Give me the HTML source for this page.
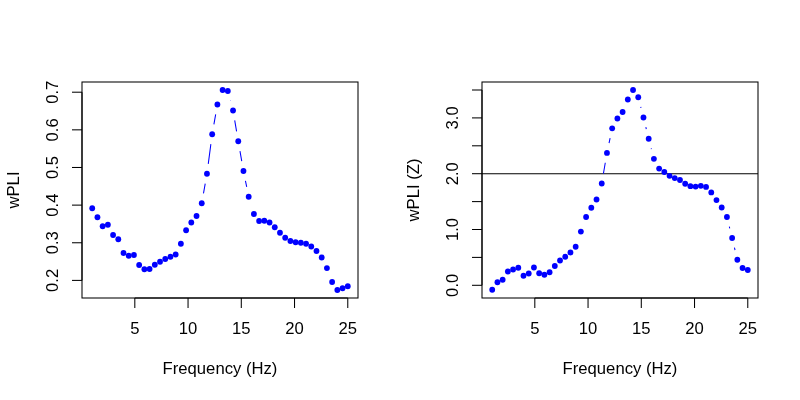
<!DOCTYPE html>
<html><head><meta charset="utf-8"><title>wPLI</title>
<style>
html,body{margin:0;padding:0;background:#fff}
svg{display:block}
text{font-family:"Liberation Sans",Arial,Helvetica,sans-serif;font-size:16.67px;fill:#000}
</style></head><body>
<svg width="800" height="400" viewBox="0 0 800 400">
<rect width="800" height="400" fill="#fff"/>
<rect x="82" y="82" width="276" height="216" fill="none" stroke="#000" stroke-width="1.04"/>
<path d="M134.81 298H347.77" stroke="#000" stroke-width="1.04" fill="none"/>
<path d="M134.81 298V308" stroke="#000" stroke-width="1.04" fill="none"/>
<text x="134.81" y="333.6" text-anchor="middle">5</text>
<path d="M188.05 298V308" stroke="#000" stroke-width="1.04" fill="none"/>
<text x="188.05" y="333.6" text-anchor="middle">10</text>
<path d="M241.29 298V308" stroke="#000" stroke-width="1.04" fill="none"/>
<text x="241.29" y="333.6" text-anchor="middle">15</text>
<path d="M294.53 298V308" stroke="#000" stroke-width="1.04" fill="none"/>
<text x="294.53" y="333.6" text-anchor="middle">20</text>
<path d="M347.77 298V308" stroke="#000" stroke-width="1.04" fill="none"/>
<text x="347.77" y="333.6" text-anchor="middle">25</text>
<path d="M82 280.40V92.20" stroke="#000" stroke-width="1.04" fill="none"/>
<path d="M82 280.40H72" stroke="#000" stroke-width="1.04" fill="none"/>
<path d="M82 242.76H72" stroke="#000" stroke-width="1.04" fill="none"/>
<path d="M82 205.12H72" stroke="#000" stroke-width="1.04" fill="none"/>
<path d="M82 167.48H72" stroke="#000" stroke-width="1.04" fill="none"/>
<path d="M82 129.84H72" stroke="#000" stroke-width="1.04" fill="none"/>
<path d="M82 92.20H72" stroke="#000" stroke-width="1.04" fill="none"/>
<text transform="translate(57.90 280.40) rotate(-90)" text-anchor="middle">0.2</text>
<text transform="translate(57.90 242.76) rotate(-90)" text-anchor="middle">0.3</text>
<text transform="translate(57.90 205.12) rotate(-90)" text-anchor="middle">0.4</text>
<text transform="translate(57.90 167.48) rotate(-90)" text-anchor="middle">0.5</text>
<text transform="translate(57.90 129.84) rotate(-90)" text-anchor="middle">0.6</text>
<text transform="translate(57.90 92.20) rotate(-90)" text-anchor="middle">0.7</text>
<text x="220" y="373.6" text-anchor="middle">Frequency (Hz)</text>
<text transform="translate(18.60 190) rotate(-90)" text-anchor="middle">wPLI</text>
<path d="M203.49 193.40L205.22 183.60M208.27 163.84L210.87 144.16M213.90 124.40L215.67 114.35M230.41 100.66L230.45 100.84M234.71 120.36L236.58 131.39M239.98 151.10L241.74 161.15M245.45 180.80L246.70 186.95" stroke="#00f" stroke-width="1.04" fill="none"/>
<g fill="#00f"><circle cx="92.22" cy="208.25" r="2.9"/><circle cx="97.44" cy="217.25" r="2.9"/><circle cx="102.65" cy="226.25" r="2.9"/><circle cx="107.87" cy="224.75" r="2.9"/><circle cx="113.08" cy="235.00" r="2.9"/><circle cx="118.30" cy="239.25" r="2.9"/><circle cx="123.51" cy="253.00" r="2.9"/><circle cx="128.73" cy="255.75" r="2.9"/><circle cx="133.94" cy="255.00" r="2.9"/><circle cx="139.16" cy="265.00" r="2.9"/><circle cx="144.38" cy="269.25" r="2.9"/><circle cx="149.59" cy="269.00" r="2.9"/><circle cx="154.81" cy="264.75" r="2.9"/><circle cx="160.02" cy="261.75" r="2.9"/><circle cx="165.24" cy="259.00" r="2.9"/><circle cx="170.45" cy="256.75" r="2.9"/><circle cx="175.67" cy="254.50" r="2.9"/><circle cx="180.88" cy="243.75" r="2.9"/><circle cx="186.10" cy="230.25" r="2.9"/><circle cx="191.31" cy="222.50" r="2.9"/><circle cx="196.53" cy="216.00" r="2.9"/><circle cx="201.75" cy="203.25" r="2.9"/><circle cx="206.96" cy="173.75" r="2.9"/><circle cx="212.18" cy="134.25" r="2.9"/><circle cx="217.39" cy="104.50" r="2.9"/><circle cx="222.61" cy="90.00" r="2.9"/><circle cx="227.82" cy="91.00" r="2.9"/><circle cx="233.04" cy="110.50" r="2.9"/><circle cx="238.25" cy="141.25" r="2.9"/><circle cx="243.47" cy="171.00" r="2.9"/><circle cx="248.69" cy="196.75" r="2.9"/><circle cx="253.90" cy="214.00" r="2.9"/><circle cx="259.12" cy="221.00" r="2.9"/><circle cx="264.33" cy="220.75" r="2.9"/><circle cx="269.55" cy="222.50" r="2.9"/><circle cx="274.76" cy="227.25" r="2.9"/><circle cx="279.98" cy="232.75" r="2.9"/><circle cx="285.19" cy="237.75" r="2.9"/><circle cx="290.41" cy="241.00" r="2.9"/><circle cx="295.62" cy="242.25" r="2.9"/><circle cx="300.84" cy="242.75" r="2.9"/><circle cx="306.06" cy="243.75" r="2.9"/><circle cx="311.27" cy="246.50" r="2.9"/><circle cx="316.49" cy="251.00" r="2.9"/><circle cx="321.70" cy="257.50" r="2.9"/><circle cx="326.92" cy="268.10" r="2.9"/><circle cx="332.13" cy="282.00" r="2.9"/><circle cx="337.35" cy="290.00" r="2.9"/><circle cx="342.56" cy="288.25" r="2.9"/><circle cx="347.78" cy="286.25" r="2.9"/></g>
<rect x="482" y="82" width="276" height="216" fill="none" stroke="#000" stroke-width="1.04"/>
<path d="M534.81 298H747.77" stroke="#000" stroke-width="1.04" fill="none"/>
<path d="M534.81 298V308" stroke="#000" stroke-width="1.04" fill="none"/>
<text x="534.81" y="333.6" text-anchor="middle">5</text>
<path d="M588.05 298V308" stroke="#000" stroke-width="1.04" fill="none"/>
<text x="588.05" y="333.6" text-anchor="middle">10</text>
<path d="M641.29 298V308" stroke="#000" stroke-width="1.04" fill="none"/>
<text x="641.29" y="333.6" text-anchor="middle">15</text>
<path d="M694.53 298V308" stroke="#000" stroke-width="1.04" fill="none"/>
<text x="694.53" y="333.6" text-anchor="middle">20</text>
<path d="M747.77 298V308" stroke="#000" stroke-width="1.04" fill="none"/>
<text x="747.77" y="333.6" text-anchor="middle">25</text>
<path d="M482 285.30V90.00" stroke="#000" stroke-width="1.04" fill="none"/>
<path d="M482 285.30H472" stroke="#000" stroke-width="1.04" fill="none"/>
<path d="M482 257.40H472" stroke="#000" stroke-width="1.04" fill="none"/>
<path d="M482 229.50H472" stroke="#000" stroke-width="1.04" fill="none"/>
<path d="M482 201.60H472" stroke="#000" stroke-width="1.04" fill="none"/>
<path d="M482 173.70H472" stroke="#000" stroke-width="1.04" fill="none"/>
<path d="M482 145.80H472" stroke="#000" stroke-width="1.04" fill="none"/>
<path d="M482 117.90H472" stroke="#000" stroke-width="1.04" fill="none"/>
<path d="M482 90.00H472" stroke="#000" stroke-width="1.04" fill="none"/>
<text transform="translate(457.90 285.30) rotate(-90)" text-anchor="middle">0.0</text>
<text transform="translate(457.90 229.50) rotate(-90)" text-anchor="middle">1.0</text>
<text transform="translate(457.90 173.70) rotate(-90)" text-anchor="middle">2.0</text>
<text transform="translate(457.90 117.90) rotate(-90)" text-anchor="middle">3.0</text>
<text x="620" y="373.6" text-anchor="middle">Frequency (Hz)</text>
<text transform="translate(418.60 190) rotate(-90)" text-anchor="middle">wPLI (Z)</text>
<path d="M482 173.70H758" stroke="#000" stroke-width="1.04" fill="none"/>
<path d="M603.43 173.64L605.28 162.76M609.04 143.12L610.10 138.08M640.75 106.93L640.98 107.82M645.85 127.21L646.30 129.04M651.20 148.43L651.38 149.12M729.33 226.71L729.72 228.29M734.47 247.72L735.02 250.03" stroke="#00f" stroke-width="1.04" fill="none"/>
<g fill="#00f"><circle cx="492.22" cy="289.75" r="2.9"/><circle cx="497.44" cy="282.25" r="2.9"/><circle cx="502.65" cy="279.75" r="2.9"/><circle cx="507.87" cy="271.50" r="2.9"/><circle cx="513.08" cy="269.50" r="2.9"/><circle cx="518.30" cy="267.75" r="2.9"/><circle cx="523.51" cy="275.75" r="2.9"/><circle cx="528.73" cy="273.50" r="2.9"/><circle cx="533.94" cy="267.50" r="2.9"/><circle cx="539.16" cy="273.25" r="2.9"/><circle cx="544.38" cy="274.75" r="2.9"/><circle cx="549.59" cy="272.25" r="2.9"/><circle cx="554.81" cy="266.00" r="2.9"/><circle cx="560.02" cy="260.50" r="2.9"/><circle cx="565.24" cy="256.75" r="2.9"/><circle cx="570.45" cy="252.50" r="2.9"/><circle cx="575.67" cy="246.75" r="2.9"/><circle cx="580.88" cy="231.60" r="2.9"/><circle cx="586.10" cy="217.00" r="2.9"/><circle cx="591.31" cy="207.75" r="2.9"/><circle cx="596.53" cy="199.50" r="2.9"/><circle cx="601.75" cy="183.50" r="2.9"/><circle cx="606.96" cy="152.90" r="2.9"/><circle cx="612.18" cy="128.30" r="2.9"/><circle cx="617.39" cy="118.50" r="2.9"/><circle cx="622.61" cy="112.00" r="2.9"/><circle cx="627.82" cy="99.50" r="2.9"/><circle cx="633.04" cy="90.00" r="2.9"/><circle cx="638.25" cy="97.25" r="2.9"/><circle cx="643.47" cy="117.50" r="2.9"/><circle cx="648.69" cy="138.75" r="2.9"/><circle cx="653.90" cy="158.80" r="2.9"/><circle cx="659.12" cy="168.60" r="2.9"/><circle cx="664.33" cy="172.00" r="2.9"/><circle cx="669.55" cy="175.80" r="2.9"/><circle cx="674.76" cy="178.05" r="2.9"/><circle cx="679.98" cy="180.00" r="2.9"/><circle cx="685.19" cy="183.75" r="2.9"/><circle cx="690.41" cy="186.15" r="2.9"/><circle cx="695.62" cy="186.60" r="2.9"/><circle cx="700.84" cy="185.85" r="2.9"/><circle cx="706.06" cy="186.90" r="2.9"/><circle cx="711.27" cy="192.45" r="2.9"/><circle cx="716.49" cy="200.10" r="2.9"/><circle cx="721.70" cy="207.50" r="2.9"/><circle cx="726.92" cy="217.00" r="2.9"/><circle cx="732.13" cy="238.00" r="2.9"/><circle cx="737.35" cy="259.75" r="2.9"/><circle cx="742.56" cy="268.00" r="2.9"/><circle cx="747.78" cy="270.00" r="2.9"/></g>
</svg>
</body></html>
